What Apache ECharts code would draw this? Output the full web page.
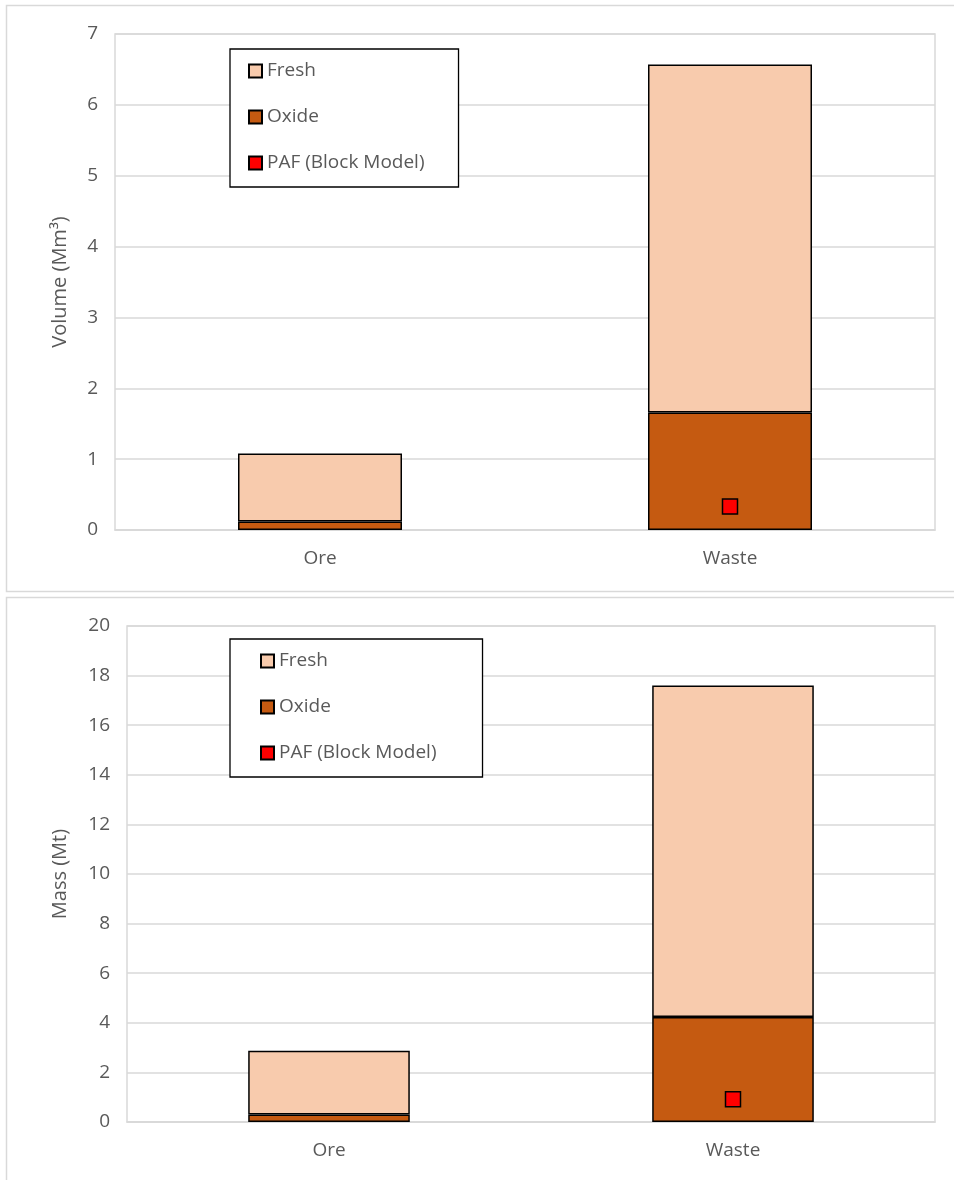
<!DOCTYPE html>
<html>
<head>
<meta charset="utf-8">
<script src="https://cdn.jsdelivr.net/npm/echarts@6/dist/echarts.min.js"></script>
<style>
html,body{margin:0;padding:0;background:#fff;}
#c{width:954px;height:1180px;}
</style>
</head>
<body>
<div id="c"></div>
<script>
const categories = ['Ore', 'Waste'];
const seriesNames = ['Fresh', 'Oxide', 'PAF (Block Model)'];
// Volume (Mm3)
const volOxide = [0.12, 1.66];
const volFresh = [0.96, 4.91];
const volPAF = [null, 0.33];
// Mass (Mt)
const massOxide = [0.30, 4.23];
const massFresh = [2.57, 13.37];
const massPAF = [null, 0.92];
const volTicks = {min: 0, max: 7, interval: 1};
const massTicks = {min: 0, max: 20, interval: 2};

const FONT = 'Open Sans';
const TXT = '#595959';
const GRIDC = '#d9d9d9';
const cFresh = '#F8CBAD', cOxide = '#C55A11', cPAF = '#FF0000';

const chart = echarts.init(document.getElementById('c'), null, {renderer: 'canvas'});

function xAxis(gi) {
  return {
    type: 'category', gridIndex: gi, data: categories,
    axisLine: {show: true, lineStyle: {color: GRIDC, width: 1.5}},
    axisTick: {show: false},
    axisLabel: {color: TXT, fontFamily: FONT, fontSize: 19, margin: 19}
  };
}
function yAxis(gi, t, name, gap) {
  return {
    type: 'value', gridIndex: gi, min: t.min, max: t.max, interval: t.interval,
    name: name, nameLocation: 'middle', nameGap: gap,
    nameTextStyle: {color: TXT, fontFamily: FONT, fontSize: 20},
    axisLine: {show: false}, axisTick: {show: false},
    axisLabel: {color: TXT, fontFamily: FONT, fontSize: 19, margin: 17},
    splitLine: {lineStyle: {color: GRIDC, width: 1.5}}
  };
}
function barSeries(name, data, color, gi) {
  return {
    name: name, type: 'bar', stack: 's' + gi, xAxisIndex: gi, yAxisIndex: gi,
    data: data, barWidth: '40%',
    itemStyle: {color: color, borderColor: '#000', borderWidth: 1.5}
  };
}
function pafSeries(data, gi) {
  return {
    name: 'PAF (Block Model)', type: 'scatter', xAxisIndex: gi, yAxisIndex: gi,
    data: data, symbol: 'rect', symbolSize: 15, z: 5,
    itemStyle: {color: cPAF, borderColor: '#000', borderWidth: 1.5, opacity: 1}
  };
}
function legend(left, top, padding) {
  return {
    orient: 'vertical', left: left, top: top,
    data: seriesNames.map(n => ({name: n, icon: 'rect'})),
    itemWidth: 13, itemHeight: 13, itemGap: 24,
    padding: padding,
    borderColor: '#000', borderWidth: 1.3, backgroundColor: '#fff',
    selectedMode: false,
    textStyle: {color: TXT, fontFamily: FONT, fontSize: 19, lineHeight: 22}
  };
}

chart.setOption({
  animation: false,
  backgroundColor: '#fff',
  graphic: [
    {type: 'rect', shape: {x: 6.5, y: 5.5, width: 960, height: 586}, style: {fill: 'none', stroke: GRIDC, lineWidth: 1.5}, z: -10},
    {type: 'rect', shape: {x: 6.5, y: 597.5, width: 960, height: 600}, style: {fill: 'none', stroke: GRIDC, lineWidth: 1.5}, z: -10}
  ],
  grid: [
    {left: 115, top: 34, width: 820, height: 496, show: true, borderColor: GRIDC, borderWidth: 1.5, backgroundColor: 'transparent'},
    {left: 127, top: 626, width: 808, height: 496, show: true, borderColor: GRIDC, borderWidth: 1.5, backgroundColor: 'transparent'}
  ],
  legend: [legend(230, 49, [11, 34, 13, 18]), legend(230, 639, [11, 46, 13, 30])],
  xAxis: [xAxis(0), xAxis(1)],
  yAxis: [yAxis(0, volTicks, 'Volume (Mm³)', 45), yAxis(1, massTicks, 'Mass (Mt)', 57)],
  series: [
    barSeries('Oxide', volOxide, cOxide, 0),
    barSeries('Fresh', volFresh, cFresh, 0),
    pafSeries(volPAF, 0),
    barSeries('Oxide', massOxide, cOxide, 1),
    barSeries('Fresh', massFresh, cFresh, 1),
    pafSeries(massPAF, 1)
  ]
});
</script>
</body>
</html>
